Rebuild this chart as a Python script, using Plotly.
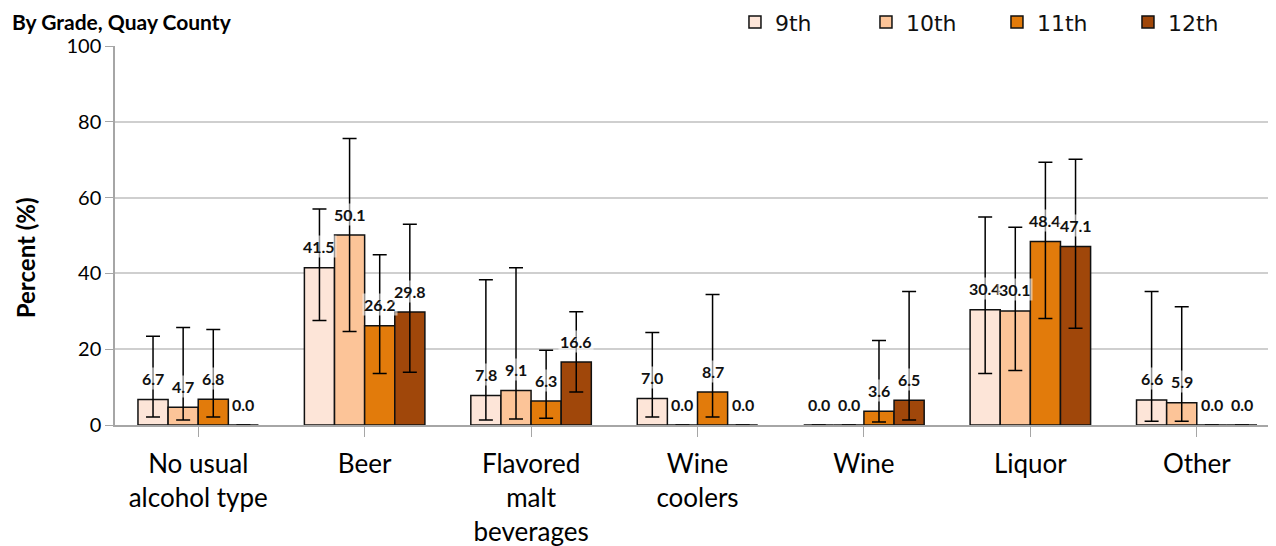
import plotly.graph_objects as go

categories = ["No usual<br>alcohol type", "Beer", "Flavored<br>malt<br>beverages",
              "Wine<br>coolers", "Wine", "Liquor", "Other"]
grades = ["9th", "10th", "11th", "12th"]
colors = ["#FDE5D8", "#FCC498", "#E27B0B", "#A0470A"]

v9 = [6.7, 41.5, 7.8, 7.0, 0.0, 30.4, 6.6]
v10 = [4.7, 50.1, 9.1, 0.0, 0.0, 30.1, 5.9]
v11 = [6.8, 26.2, 6.3, 8.7, 3.6, 48.4, 0.0]
v12 = [0.0, 29.8, 16.6, 0.0, 6.5, 47.1, 0.0]

hi9 = [23.4, 57.0, 38.3, 24.4, None, 54.9, 35.2]
lo9 = [2.1, 27.6, 1.3, 2.1, None, 13.6, 1.0]
hi10 = [25.7, 75.6, 41.5, None, None, 52.2, 31.2]
lo10 = [1.3, 24.7, 1.6, None, None, 14.4, 1.0]
hi11 = [25.2, 44.9, 19.7, 34.4, 22.3, 69.3, None]
lo11 = [2.1, 13.6, 1.8, 2.1, 0.8, 28.1, None]
hi12 = [None, 53.0, 29.9, None, 35.2, 70.1, None]
lo12 = [None, 13.9, 8.7, None, 1.3, 25.5, None]

values = [v9, v10, v11, v12]
highs = [hi9, hi10, hi11, hi12]
lows = [lo9, lo10, lo11, lo12]

FONT = "Lato, Open Sans, sans-serif"

fig = go.Figure()
for g, col, vals, hi, lo in zip(grades, colors, values, highs, lows):
    plus = [(h - v) if h is not None else 0 for h, v in zip(hi, vals)]
    minus = [(v - l) if l is not None else 0 for l, v in zip(lo, vals)]
    fig.add_trace(go.Bar(
        name=g, x=list(range(len(categories))), y=vals,
        marker=dict(color=col, line=dict(color="#111111", width=1.5)),
        error_y=dict(type="data", symmetric=False, array=plus, arrayminus=minus,
                     color="#000000", thickness=1.5, width=7, visible=True),
    ))

bargap = 0.276
bw = (1 - bargap) / 4
for j, vals in enumerate(values):
    off = (j - 1.5) * bw
    for i, v in enumerate(vals):
        fig.add_annotation(
            x=i + off, y=v, xref="x", yref="y", text="<b>%.1f</b>" % v,
            showarrow=False, yanchor="middle", yshift=21,
            font=dict(family=FONT, size=16, color="#111111"),
            bgcolor="rgba(255,255,255,0.55)", borderpad=1,
        )

fig.add_annotation(
    x=0.0, y=1.1003, xref="paper", yref="paper", xanchor="left", yanchor="top",
    xshift=-104, text="<b>By Grade, Quay County</b>", showarrow=False,
    font=dict(family=FONT, size=21, color="#000000"), borderpad=0,
)

fig.add_annotation(
    x=0.0, y=0.44, xref="paper", yref="paper", xanchor="center", yanchor="middle",
    xshift=-90, text="<b>Percent (%)</b>", textangle=-90, showarrow=False,
    font=dict(family=FONT, size=24, color="#000000"),
)

fig.update_layout(
    width=1268, height=546,
    margin=dict(l=107, r=0, t=38, b=129, autoexpand=False),
    plot_bgcolor="white", paper_bgcolor="white",
    barmode="group", bargap=bargap, bargroupgap=0,
    showlegend=True,
    legend=dict(orientation="h", x=0.534, xanchor="left", y=1.063, yanchor="middle",
                font=dict(family="DejaVu Sans, sans-serif", size=22, color="#111111"),
                itemwidth=30, entrywidth=86, entrywidthmode="pixels",
                tracegroupgap=0, bgcolor="rgba(0,0,0,0)"),
    xaxis=dict(
        tickmode="array", tickvals=list(range(len(categories))), ticktext=categories,
        range=[-0.5, 6.476], showline=True, linecolor="#A6A6A6", linewidth=1.5,
        ticks="outside", tickson="boundaries", ticklen=10, tickcolor="#A6A6A6",
        tickfont=dict(family=FONT, size=26, color="#000000"),
        ticklabelstandoff=5,
        showgrid=False,
    ),
    yaxis=dict(
        range=[0, 100], tickvals=[0, 20, 40, 60, 80, 100],
        showline=True, linecolor="#A6A6A6", linewidth=1.5,
        ticks="outside", ticklen=8, tickcolor="#A6A6A6",
        showgrid=True, gridcolor="#CFCFCF", gridwidth=1.5,
        tickfont=dict(family=FONT, size=20, color="#000000"),
        zeroline=False,
    ),
)

fig.write_html("out.html")
